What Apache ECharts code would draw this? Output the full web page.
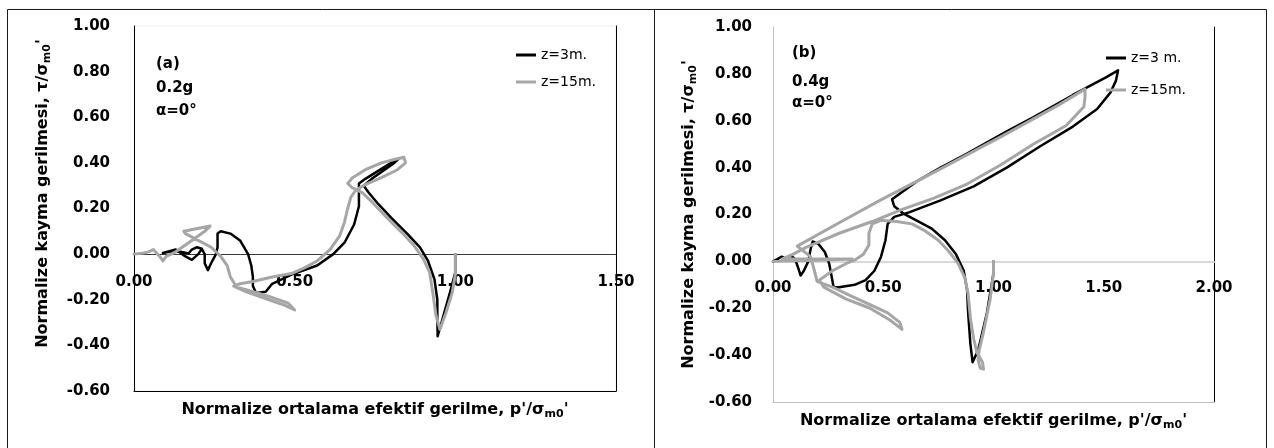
<!DOCTYPE html>
<html>
<head>
<meta charset="utf-8">
<script src="https://cdn.jsdelivr.net/npm/echarts@6/dist/echarts.min.js"></script>
<style>
  html, body { margin: 0; padding: 0; background: #ffffff; }
  #chart { width: 1274px; height: 448px; }
</style>
</head>
<body>
<div id="chart"></div>
<script>
// Effective stress paths: p'/σm0' (x) against τ/σm0' (y), two depths per case.

// (a) 0.2g, α = 0°
const pathA_z3 = [
  [1.00, 0.00], [1.00, -0.08], [0.985, -0.16], [0.965, -0.26], [0.945, -0.36],
  [0.944, -0.28], [0.944, -0.20], [0.935, -0.11], [0.915, -0.03], [0.89, 0.03],
  [0.85, 0.09], [0.80, 0.16], [0.76, 0.22], [0.73, 0.27], [0.715, 0.30],
  [0.74, 0.33], [0.78, 0.37], [0.81, 0.40], [0.825, 0.42], [0.80, 0.40],
  [0.76, 0.365], [0.72, 0.33], [0.70, 0.31], [0.70, 0.27], [0.70, 0.21],
  [0.685, 0.13], [0.655, 0.05], [0.62, 0.00], [0.57, -0.05], [0.49, -0.09],
  [0.43, -0.13], [0.41, -0.165], [0.38, -0.17], [0.37, -0.14], [0.37, -0.10],
  [0.365, -0.05], [0.355, 0.00], [0.33, 0.06], [0.30, 0.09], [0.27, 0.10],
  [0.26, 0.09], [0.26, 0.03], [0.255, 0.00], [0.24, -0.04], [0.23, -0.07],
  [0.22, -0.04], [0.22, 0.00], [0.21, 0.025], [0.195, 0.03], [0.18, 0.02],
  [0.17, 0.003], [0.145, 0.01], [0.11, 0.01], [0.09, 0.005], [0.13, 0.02],
  [0.16, -0.01], [0.18, -0.025], [0.20, 0.00], [0.21, 0.02]
];
const pathA_z15 = [
  [1.00, 0.00], [1.00, -0.09], [0.99, -0.17], [0.97, -0.26], [0.952, -0.33],
  [0.94, -0.27], [0.93, -0.17], [0.92, -0.08], [0.90, -0.02], [0.87, 0.04],
  [0.83, 0.10], [0.78, 0.17], [0.74, 0.23], [0.71, 0.27], [0.68, 0.29],
  [0.665, 0.31], [0.68, 0.335], [0.72, 0.37], [0.77, 0.40], [0.81, 0.415],
  [0.84, 0.425], [0.845, 0.40], [0.82, 0.37], [0.77, 0.335], [0.72, 0.305],
  [0.69, 0.28], [0.675, 0.25], [0.665, 0.20], [0.655, 0.14], [0.64, 0.08],
  [0.61, 0.02], [0.57, -0.03], [0.53, -0.06], [0.49, -0.085], [0.43, -0.10],
  [0.37, -0.12], [0.33, -0.13], [0.31, -0.14], [0.35, -0.165], [0.42, -0.20],
  [0.47, -0.225], [0.50, -0.245], [0.48, -0.215], [0.42, -0.185], [0.36, -0.16],
  [0.32, -0.145], [0.30, -0.10], [0.29, -0.05], [0.27, -0.01], [0.24, 0.03],
  [0.20, 0.06], [0.16, 0.09], [0.155, 0.10], [0.19, 0.11], [0.237, 0.123],
  [0.22, 0.10], [0.19, 0.07], [0.16, 0.04], [0.13, 0.01], [0.10, -0.01],
  [0.09, -0.03], [0.08, -0.01], [0.06, 0.02], [0.045, 0.01], [0.03, 0.005],
  [0.00, 0.00]
];

// (b) 0.4g, α = 0°
const pathB_z3 = [
  [1.00, 0.00], [1.00, -0.05], [0.97, -0.22], [0.93, -0.38], [0.905, -0.43],
  [0.895, -0.35], [0.885, -0.22], [0.88, -0.12], [0.865, -0.04], [0.83, 0.03],
  [0.78, 0.09], [0.72, 0.14], [0.65, 0.175], [0.59, 0.205], [0.55, 0.235],
  [0.54, 0.265], [0.65, 0.34], [0.76, 0.40], [0.88, 0.46], [1.06, 0.555],
  [1.18, 0.615], [1.36, 0.71], [1.51, 0.785], [1.565, 0.815], [1.555, 0.77],
  [1.53, 0.72], [1.47, 0.65], [1.36, 0.575], [1.21, 0.49], [1.06, 0.40],
  [0.91, 0.32], [0.76, 0.26], [0.62, 0.21], [0.55, 0.19], [0.52, 0.16],
  [0.51, 0.09], [0.49, 0.02], [0.46, -0.04], [0.42, -0.08], [0.37, -0.10],
  [0.30, -0.11], [0.275, -0.11], [0.265, -0.06], [0.255, -0.01], [0.235, 0.04],
  [0.205, 0.075], [0.18, 0.085], [0.17, 0.05], [0.16, 0.00], [0.14, -0.04],
  [0.125, -0.06], [0.115, -0.03], [0.10, 0.01], [0.08, 0.025], [0.06, 0.01],
  [0.04, 0.02], [0.02, 0.01], [0.00, 0.00]
];
const pathB_z15 = [
  [1.00, 0.00], [1.00, -0.05], [0.985, -0.16], [0.955, -0.30], [0.935, -0.38],
  [0.93, -0.42], [0.94, -0.455], [0.955, -0.46], [0.95, -0.43], [0.925, -0.39],
  [0.91, -0.33], [0.895, -0.24], [0.885, -0.14], [0.87, -0.07], [0.84, -0.01],
  [0.80, 0.04], [0.75, 0.09], [0.69, 0.13], [0.63, 0.16], [0.56, 0.17],
  [0.49, 0.175], [0.45, 0.16], [0.435, 0.12], [0.435, 0.07], [0.41, 0.03],
  [0.37, 0.005], [0.33, -0.01], [0.27, -0.04], [0.21, -0.08], [0.23, -0.11],
  [0.33, -0.16], [0.44, -0.20], [0.53, -0.25], [0.585, -0.29], [0.575, -0.26],
  [0.52, -0.22], [0.44, -0.185], [0.36, -0.15], [0.27, -0.11], [0.20, -0.085],
  [0.185, -0.03], [0.17, 0.02], [0.11, 0.065], [0.30, 0.165], [0.485, 0.26],
  [0.76, 0.395], [1.06, 0.545], [1.30, 0.67], [1.415, 0.735], [1.415, 0.70],
  [1.41, 0.66], [1.33, 0.58], [1.18, 0.50], [1.03, 0.41], [0.88, 0.33],
  [0.73, 0.27], [0.58, 0.22], [0.45, 0.17], [0.30, 0.12], [0.15, 0.06],
  [0.09, 0.03], [0.04, 0.01], [0.20, 0.01], [0.36, 0.01], [0.20, 0.005],
  [0.00, 0.00]
];

const seriesNamesA = ['z=3m.', 'z=15m.'];
const seriesNamesB = ['z=3 m.', 'z=15m.'];
const notesA = ['(a)', '0.2g', 'α=0°'];
const notesB = ['(b)', '0.4g', 'α=0°'];
const xRangeA = [0, 1.5];
const xRangeB = [0, 2.0];
const yRange = [-0.6, 1.0];
const tickStep = { x: 0.5, y: 0.2 };

const FONT = 'DejaVu Sans';
const BLACK = '#000000';
const GREY = '#a6a6a6';

// plot rectangles of the two panels
const boxA = { left: 134, top: 26, width: 482, height: 365 };
const boxB = { left: 773, top: 27, width: 441, height: 375 };
// distance from the top edge of a plot down to the τ = 0 level
const zeroDrop = (box) => box.height * (yRange[1] - 0) / (yRange[1] - yRange[0]);

const xTitle = "Normalize ortalama efektif gerilme, p'/σ{sub|m0}'";
const yTitle = "Normalize kayma gerilmesi, τ/σ{sub|m0}'";
const titleStyle = {
  fontFamily: FONT, fontWeight: 'bold', fontSize: 16, color: '#000',
  lineHeight: 20,
  rich: { sub: { fontFamily: FONT, fontWeight: 'bold', fontSize: 11, lineHeight: 12, verticalAlign: 'bottom', color: '#000' } }
};
const tickLabel = (margin, inside) => ({
  show: true, inside: !!inside, margin: margin, fontFamily: FONT, fontWeight: 'bold', fontSize: 15, color: '#000',
  formatter: (v) => v.toFixed(2)
});
const noLabel = { show: false };
const noTick = { show: false };
const noSplit = { show: false };

function lineSeries(name, data, color, width, xi, yi, z) {
  return {
    type: 'line', name: name, data: data, xAxisIndex: xi, yAxisIndex: yi,
    symbol: 'none', showSymbol: false, smooth: false, z: z,
    lineStyle: { color: color, width: width, join: 'round', cap: 'round' },
    itemStyle: { color: color },
    emphasis: { disabled: true }
  };
}

function noteTexts(lines, x, ys) {
  return lines.map((t, i) => ({
    type: 'text', x: x, y: ys[i], z: 50,
    style: { text: t, font: 'bold 15px "' + FONT + '"', fill: '#000', align: 'left', verticalAlign: 'middle' }
  }));
}

function frameLine(x1, y1, x2, y2) {
  return { type: 'line', z: 60, shape: { x1: x1, y1: y1, x2: x2, y2: y2 }, style: { stroke: '#1a1a1a', lineWidth: 1 } };
}

const chart = echarts.init(document.getElementById('chart'), null, { renderer: 'canvas' });

chart.setOption({
  animation: false,
  backgroundColor: '#ffffff',
  grid: [
    Object.assign({ show: true, borderColor: '#ececec', borderWidth: 1, outerBoundsMode: 'none', containLabel: false }, boxA),
    Object.assign({ show: false, outerBoundsMode: 'none', containLabel: false }, boxB)
  ],
  xAxis: [
    // (a) axis drawn at τ = 0, labels hanging below it
    { gridIndex: 0, type: 'value', min: xRangeA[0], max: xRangeA[1], interval: tickStep.x, position: 'top',
      offset: -zeroDrop(boxA),
      axisLine: { show: true, onZero: false, lineStyle: { color: '#3a3a3a', width: 1 } },
      axisTick: noTick, splitLine: noSplit, axisLabel: tickLabel(20, true) },
    // (a) lower frame edge with the axis title
    { gridIndex: 0, type: 'value', min: xRangeA[0], max: xRangeA[1], position: 'bottom',
      axisLine: { show: true, onZero: false, lineStyle: { color: '#000', width: 1 } },
      axisTick: noTick, splitLine: noSplit, axisLabel: noLabel,
      name: xTitle, nameLocation: 'middle', nameGap: 9, nameTextStyle: titleStyle },
    // (b) axis drawn at τ = 0
    { gridIndex: 1, type: 'value', min: xRangeB[0], max: xRangeB[1], interval: tickStep.x, position: 'top',
      offset: -zeroDrop(boxB),
      axisLine: { show: true, onZero: false, lineStyle: { color: '#d9d9d9', width: 2 } },
      axisTick: noTick, splitLine: noSplit, axisLabel: tickLabel(19, true) },
    // (b) lower frame edge with the axis title
    { gridIndex: 1, type: 'value', min: xRangeB[0], max: xRangeB[1], position: 'bottom',
      axisLine: { show: true, onZero: false, lineStyle: { color: '#bfbfbf', width: 1 } },
      axisTick: noTick, splitLine: noSplit, axisLabel: noLabel,
      name: xTitle, nameLocation: 'middle', nameGap: 9, nameTextStyle: titleStyle }
  ],
  yAxis: [
    { gridIndex: 0, type: 'value', min: yRange[0], max: yRange[1], interval: tickStep.y, position: 'left',
      axisLine: { show: true, onZero: false, lineStyle: { color: '#000', width: 1 } },
      axisTick: noTick, splitLine: noSplit, axisLabel: tickLabel(24),
      name: yTitle, nameLocation: 'middle', nameRotate: 90, nameGap: 81,
      nameTextStyle: Object.assign({}, titleStyle, { padding: [0, 0, 0, 30] }) },
    { gridIndex: 0, type: 'value', min: yRange[0], max: yRange[1], position: 'right',
      axisLine: { show: true, onZero: false, lineStyle: { color: '#000', width: 1 } },
      axisTick: noTick, splitLine: noSplit, axisLabel: noLabel },
    { gridIndex: 1, type: 'value', min: yRange[0], max: yRange[1], interval: tickStep.y, position: 'left',
      axisLine: { show: true, onZero: false, lineStyle: { color: '#bfbfbf', width: 1 } },
      axisTick: noTick, splitLine: noSplit, axisLabel: tickLabel(21),
      name: yTitle, nameLocation: 'middle', nameRotate: 90, nameGap: 74, nameTextStyle: titleStyle },
    { gridIndex: 1, type: 'value', min: yRange[0], max: yRange[1], position: 'right',
      axisLine: { show: true, onZero: false, lineStyle: { color: '#000', width: 1 } },
      axisTick: noTick, splitLine: noSplit, axisLabel: noLabel }
  ],
  legend: [
    { data: seriesNamesA, orient: 'vertical', left: 511, top: 42, itemWidth: 20, itemHeight: 3, itemGap: 11,
      icon: 'rect', selectedMode: false,
      textStyle: { fontFamily: FONT, fontSize: 14, color: '#000', lineHeight: 16 } },
    { data: seriesNamesB, orient: 'vertical', left: 1101, top: 45, itemWidth: 20, itemHeight: 3, itemGap: 16,
      icon: 'rect', selectedMode: false,
      textStyle: { fontFamily: FONT, fontSize: 14, color: '#000', lineHeight: 16 } }
  ],
  series: [
    lineSeries(seriesNamesA[0], pathA_z3, BLACK, 2.5, 0, 0, 2),
    lineSeries(seriesNamesA[1], pathA_z15, GREY, 3, 0, 0, 3),
    lineSeries(seriesNamesB[0], pathB_z3, BLACK, 2.5, 2, 2, 2),
    lineSeries(seriesNamesB[1], pathB_z15, GREY, 3, 2, 2, 3)
  ],
  graphic: [].concat(
    noteTexts(notesA, 156, [64, 88, 111]),
    noteTexts(notesB, 792, [53, 82, 103]),
    [
      frameLine(7.5, 9.5, 1266.5, 9.5),
      frameLine(7.5, 9.5, 7.5, 448),
      frameLine(654.5, 9.5, 654.5, 448),
      frameLine(1266.5, 9.5, 1266.5, 448)
    ]
  )
});
</script>
</body>
</html>
